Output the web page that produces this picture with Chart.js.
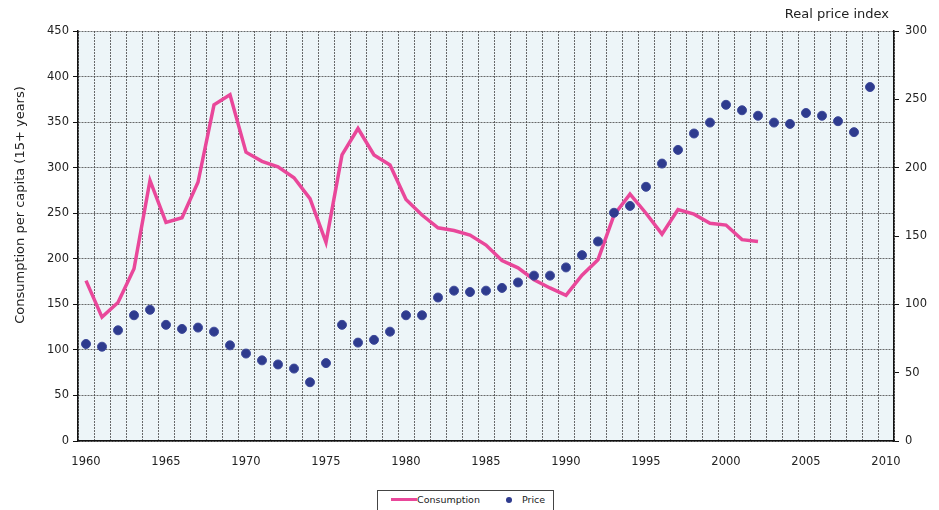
<!DOCTYPE html>
<html>
<head>
<meta charset="utf-8">
<script src="https://cdn.jsdelivr.net/npm/chart.js@4"></script>
<style>
  html, body { margin: 0; padding: 0; background: #fff; }
  .wrap { position: relative; width: 939px; height: 510px; overflow: hidden; }
  canvas { display: block; }
  .legend {
    position: absolute; left: 377px; top: 490px; width: 175px; height: 30px;
    border: 1px solid #444; background: #fff;
    font-family: "DejaVu Sans", sans-serif; font-size: 9.5px; color: #222;
  }
  .legend .line { position: absolute; left: 13px; top: 7px; width: 26px; height: 3px; background: #E9479A; }
  .legend .lbl1 { position: absolute; left: 39px; top: 3px; }
  .legend .dot { position: absolute; left: 128px; top: 6px; width: 6px; height: 6px; border-radius: 50%; background: #2E3B8E; }
  .legend .lbl2 { position: absolute; left: 144px; top: 3px; }
</style>
</head>
<body>
<div class="wrap">
  <canvas id="chart" width="939" height="510"></canvas>
  <div class="legend">
    <div class="line"></div><span class="lbl1">Consumption</span>
    <div class="dot"></div><span class="lbl2">Price</span>
  </div>
</div>
<script>
const years = [];
for (let y = 1960; y <= 2010; y++) years.push(String(y));

// consumption per capita, 1960-2002
const consumption = [176, 136, 152, 189, 286, 240, 245, 284, 369, 380,
                     317, 307, 301, 289, 266, 218, 314, 343, 314, 303,
                     265, 248, 234, 231, 226, 215, 198, 190, 177, 168,
                     160, 182, 199, 248, 271, 250, 227, 254, 249, 239,
                     237, 221, 219];

// real price index, 1960-2009
const price = [71, 69, 81, 92, 96, 85, 82, 83, 80, 70,
               64, 59, 56, 53, 43, 57, 85, 72, 74, 80,
               92, 92, 105, 110, 109, 110, 112, 116, 121, 121,
               127, 136, 146, 167, 172, 186, 203, 213, 225, 233,
               246, 242, 238, 233, 232, 240, 238, 234, 226, 259];

const leftTitle = 'Consumption per capita (15+ years)';
const rightTitleText = 'Real price index';

const FONT = 'DejaVu Sans';
const gridColor = 'rgba(70,70,70,0.8)';

const plotBg = {
    id: 'plotBg',
    beforeDraw(chart) {
        const a = chart.chartArea;
        const c = chart.ctx;
        c.save();
        c.fillStyle = '#EDF5F8';
        c.fillRect(a.left, a.top, a.right - a.left, a.bottom - a.top);
        c.restore();
    }
};

// axis titles drawn by hand: the left one sits above the middle of the plot
const axisTitles = {
    id: 'axisTitles',
    afterDraw(chart) {
        const c = chart.ctx;
        c.save();
        c.font = '13px "' + FONT + '"';
        c.fillStyle = '#222';
        c.textBaseline = 'middle';
        c.textAlign = 'right';
        c.fillText(rightTitleText, chart.chartArea.right - 5, 15);
        c.translate(21, 205);
        c.rotate(-Math.PI / 2);
        c.textAlign = 'center';
        c.fillText(leftTitle, 0, 0);
        c.restore();
    }
};

const ctx = document.getElementById('chart').getContext('2d');
const chart = new Chart(ctx, {
    type: 'line',
    data: {
        labels: years,
        datasets: [{
            label: 'Consumption',
            data: consumption,
            borderColor: '#E9479A',
            borderWidth: 3.5,
            pointRadius: 0,
            tension: 0,
            yAxisID: 'y',
            order: 1
        }, {
            label: 'Price',
            data: price,
            showLine: false,
            pointRadius: 4.5,
            pointBackgroundColor: '#2E3B8E',
            pointBorderColor: '#3E4A9A',
            pointBorderWidth: 1,
            yAxisID: 'y1',
            order: 0
        }]
    },
    options: {
        responsive: false,
        animation: false,
        layout: { padding: { top: 31, left: 0, right: 0, bottom: 0 } },
        plugins: {
            legend: { display: false },
            tooltip: { enabled: false }
        },
        scales: {
            x: {
                type: 'category',
                offset: true,
                grid: { offset: true, color: gridColor, lineWidth: 1, drawTicks: false },
                border: { display: true, color: '#111', width: 1.5, dash: [2, 1] },
                ticks: {
                    autoSkip: false, maxRotation: 0, padding: 14,
                    color: '#222', font: { family: FONT, size: 11.5 },
                    callback: function (v, i) { return (i % 5 === 0) ? this.getLabelForValue(v) : ''; }
                },
                afterFit: s => { s.height = 69; }
            },
            y: {
                position: 'left',
                min: 0, max: 450,
                ticks: { stepSize: 50, color: '#222', font: { family: FONT, size: 11.5 }, padding: 4 },
                grid: { color: gridColor, tickColor: '#111', tickLength: 5, lineWidth: 1 },
                border: { display: true, color: '#111', width: 1.5, dash: [2, 1] },
                afterFit: s => { s.width = 78; }
            },
            y1: {
                position: 'right',
                min: 0, max: 300,
                ticks: { stepSize: 50, color: '#222', font: { family: FONT, size: 11.5 }, padding: 6 },
                grid: { drawOnChartArea: false, tickColor: '#111', tickLength: 5 },
                border: { display: true, color: '#111', width: 1.5 },
                afterFit: s => { s.width = 45; }
            }
        }
    },
    plugins: [plotBg, axisTitles]
});
</script>
</body>
</html>
